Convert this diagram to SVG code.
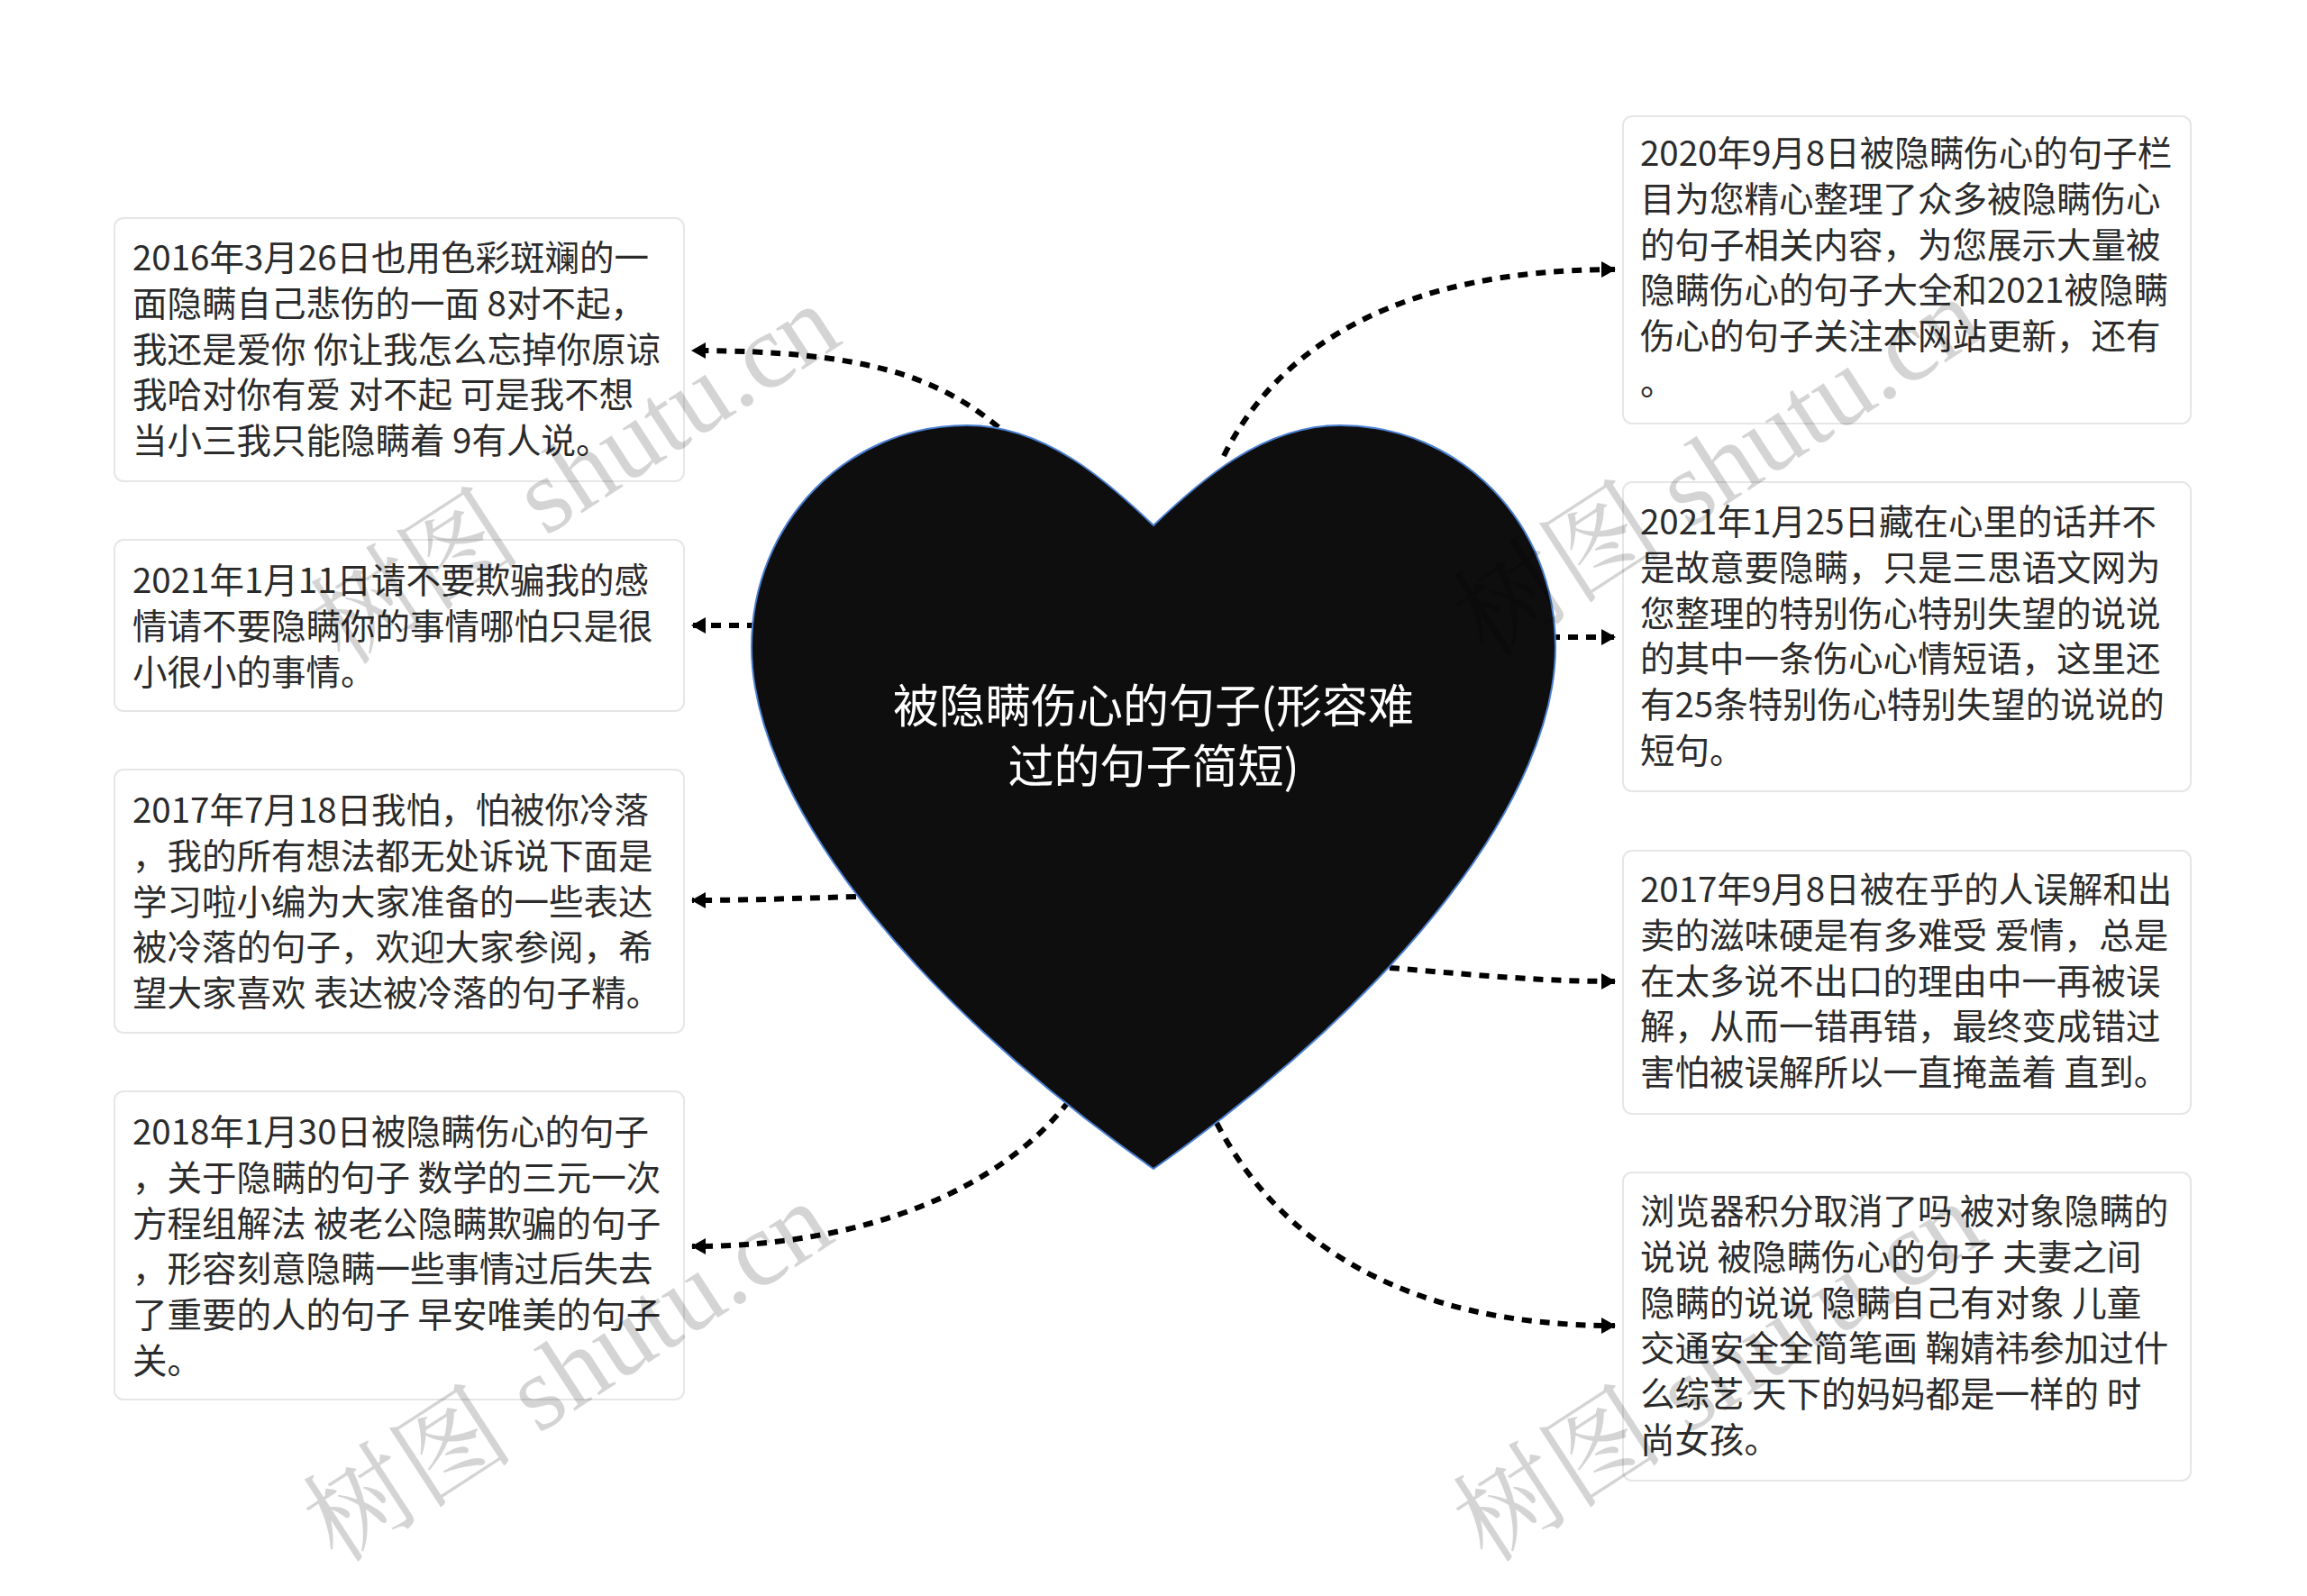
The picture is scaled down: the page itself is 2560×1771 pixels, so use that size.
<svg xmlns="http://www.w3.org/2000/svg" width="2560" height="1771" viewBox="0 0 2560 1771">
<style>
.box{fill:#ffffff;stroke:#e6e6e6;stroke-width:2}
.t{font-family:"Noto Sans CJK SC","Noto Sans",sans-serif;font-size:38.5px;fill:#2b2b2b}
.ht{font-family:"Noto Sans CJK SC","Noto Sans",sans-serif;font-size:51px;fill:#ffffff}
.c{fill:none;stroke:#000;stroke-width:6;stroke-dasharray:11 9}
.wm{font-family:"Liberation Serif","Noto Serif CJK SC","Noto Sans CJK SC",serif;font-size:118px;fill:#000;fill-opacity:0.17}
</style>
<defs>
<marker id="arr" viewBox="0 0 16 18" refX="15" refY="9" markerWidth="16" markerHeight="18" markerUnits="userSpaceOnUse" orient="auto">
<path d="M0,0 L16,9 L0,18 z" fill="#000"/>
</marker>
</defs>
<rect width="2560" height="1771" fill="#ffffff"/>
<g id="connectors">
<path class="c" marker-end="url(#arr)" d="M1108,474 C1040,418 960,389 768,389"/>
<path class="c" marker-end="url(#arr)" d="M840,694 L768,694"/>
<path class="c" marker-end="url(#arr)" d="M950,995 C880,997 830,999 768,999"/>
<path class="c" marker-end="url(#arr)" d="M1186,1222 C1110,1320 960,1383 768,1383"/>
<path class="c" marker-end="url(#arr)" d="M1358,506 C1420,380 1560,299 1792,299"/>
<path class="c" marker-end="url(#arr)" d="M1720,707 L1792,707"/>
<path class="c" marker-end="url(#arr)" d="M1542,1074 C1620,1080 1700,1089 1792,1089"/>
<path class="c" marker-end="url(#arr)" d="M1350,1246 C1420,1380 1560,1471 1792,1471"/>
</g>
<g id="center">
<path d="M1280,583 C1330,535 1400,472 1487,472 C1620,472 1726,580 1726,718 C1726,880 1560,1100 1280,1297 C1000,1100 834,880 834,718 C834,580 940,472 1073,472 C1160,472 1230,535 1280,583 Z" fill="#0e0e0e" stroke="#4a7fd0" stroke-width="2"/>
<text class="ht" text-anchor="middle"><tspan x="1280" y="802">被隐瞒伤心的句子(形容难</tspan><tspan x="1280" y="869">过的句子简短)</tspan></text>
</g>
<g id="left1">
<rect class="box" x="127" y="242" width="632" height="292" rx="10"/>
<text class="t"><tspan x="147" y="300">2016年3月26日也用色彩斑斓的一</tspan><tspan x="147" dy="50.8">面隐瞒自己悲伤的一面 8对不起，</tspan><tspan x="147" dy="50.8">我还是爱你 你让我怎么忘掉你原谅</tspan><tspan x="147" dy="50.8">我哈对你有爱 对不起 可是我不想</tspan><tspan x="147" dy="50.8">当小三我只能隐瞒着 9有人说。</tspan></text>
</g>
<g id="left2">
<rect class="box" x="127" y="599" width="632" height="190" rx="10"/>
<text class="t"><tspan x="147" y="658">2021年1月11日请不要欺骗我的感</tspan><tspan x="147" dy="50.8">情请不要隐瞒你的事情哪怕只是很</tspan><tspan x="147" dy="50.8">小很小的事情。</tspan></text>
</g>
<g id="left3">
<rect class="box" x="127" y="854" width="632" height="292" rx="10"/>
<text class="t"><tspan x="147" y="913">2017年7月18日我怕，怕被你冷落</tspan><tspan x="147" dy="50.8">，我的所有想法都无处诉说下面是</tspan><tspan x="147" dy="50.8">学习啦小编为大家准备的一些表达</tspan><tspan x="147" dy="50.8">被冷落的句子，欢迎大家参阅，希</tspan><tspan x="147" dy="50.8">望大家喜欢 表达被冷落的句子精。</tspan></text>
</g>
<g id="left4">
<rect class="box" x="127" y="1211" width="632" height="342" rx="10"/>
<text class="t"><tspan x="147" y="1270">2018年1月30日被隐瞒伤心的句子</tspan><tspan x="147" dy="50.8">，关于隐瞒的句子 数学的三元一次</tspan><tspan x="147" dy="50.8">方程组解法 被老公隐瞒欺骗的句子</tspan><tspan x="147" dy="50.8">，形容刻意隐瞒一些事情过后失去</tspan><tspan x="147" dy="50.8">了重要的人的句子 早安唯美的句子</tspan><tspan x="147" dy="50.8">关。</tspan></text>
</g>
<g id="right1">
<rect class="box" x="1801" y="129" width="630" height="341" rx="10"/>
<text class="t"><tspan x="1820" y="184">2020年9月8日被隐瞒伤心的句子栏</tspan><tspan x="1820" dy="50.8">目为您精心整理了众多被隐瞒伤心</tspan><tspan x="1820" dy="50.8">的句子相关内容，为您展示大量被</tspan><tspan x="1820" dy="50.8">隐瞒伤心的句子大全和2021被隐瞒</tspan><tspan x="1820" dy="50.8">伤心的句子关注本网站更新，还有</tspan><tspan x="1820" dy="50.8">。</tspan></text>
</g>
<g id="right2">
<rect class="box" x="1801" y="535" width="630" height="343" rx="10"/>
<text class="t"><tspan x="1820" y="593">2021年1月25日藏在心里的话并不</tspan><tspan x="1820" dy="50.8">是故意要隐瞒，只是三思语文网为</tspan><tspan x="1820" dy="50.8">您整理的特别伤心特别失望的说说</tspan><tspan x="1820" dy="50.8">的其中一条伤心心情短语，这里还</tspan><tspan x="1820" dy="50.8">有25条特别伤心特别失望的说说的</tspan><tspan x="1820" dy="50.8">短句。</tspan></text>
</g>
<g id="right3">
<rect class="box" x="1801" y="944" width="630" height="292" rx="10"/>
<text class="t"><tspan x="1820" y="1001">2017年9月8日被在乎的人误解和出</tspan><tspan x="1820" dy="50.8">卖的滋味硬是有多难受 爱情，总是</tspan><tspan x="1820" dy="50.8">在太多说不出口的理由中一再被误</tspan><tspan x="1820" dy="50.8">解，从而一错再错，最终变成错过</tspan><tspan x="1820" dy="50.8">害怕被误解所以一直掩盖着 直到。</tspan></text>
</g>
<g id="right4">
<rect class="box" x="1801" y="1301" width="630" height="342" rx="10"/>
<text class="t"><tspan x="1820" y="1358">浏览器积分取消了吗 被对象隐瞒的</tspan><tspan x="1820" dy="50.8">说说 被隐瞒伤心的句子 夫妻之间</tspan><tspan x="1820" dy="50.8">隐瞒的说说 隐瞒自己有对象 儿童</tspan><tspan x="1820" dy="50.8">交通安全全简笔画 鞠婧祎参加过什</tspan><tspan x="1820" dy="50.8">么综艺 天下的妈妈都是一样的 时</tspan><tspan x="1820" dy="50.8">尚女孩。</tspan></text>
</g>
<g id="watermarks">
<text class="wm" text-anchor="middle" transform="translate(660,560) rotate(-33)">树图 shutu.cn</text>
<text class="wm" text-anchor="middle" transform="translate(652,1556) rotate(-33)">树图 shutu.cn</text>
<text class="wm" text-anchor="middle" transform="translate(1928,552) rotate(-33)">树图 shutu.cn</text>
<text class="wm" text-anchor="middle" transform="translate(1928,1556) rotate(-33)">树图 shutu.cn</text>
</g>
</svg>
